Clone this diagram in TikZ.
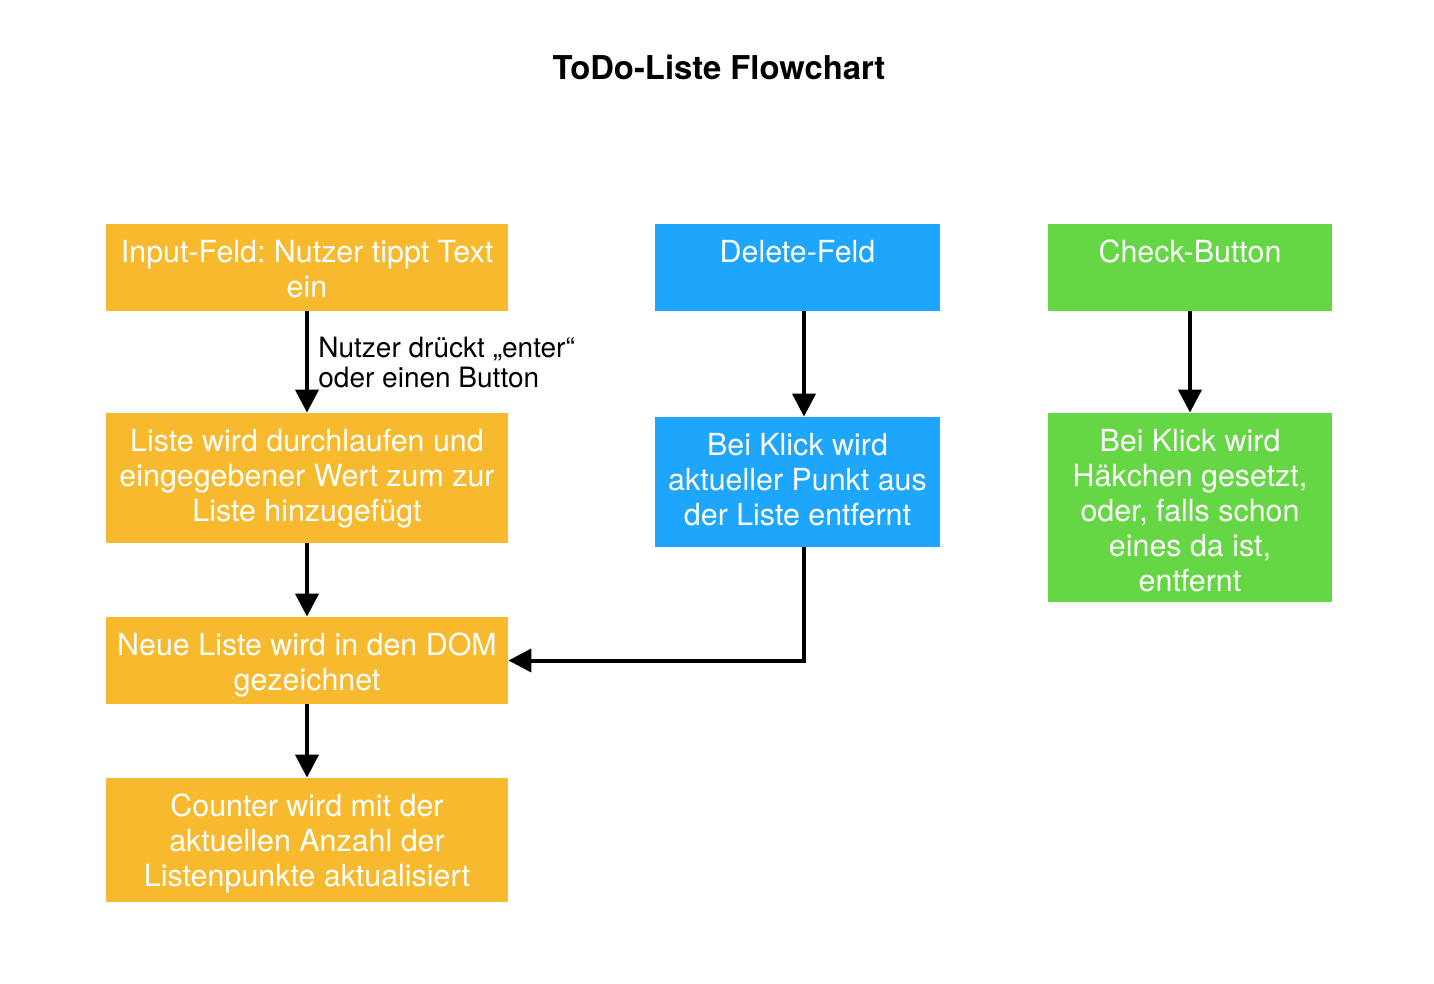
\documentclass[tikz,border=0pt]{standalone}
\usepackage{fontspec}
\setmainfont{TeX Gyre Heros}
\usetikzlibrary{arrows.meta}
\definecolor{borange}{HTML}{F7B92E}
\definecolor{bblue}{HTML}{1DA6FC}
\definecolor{bgreen}{HTML}{66D744}
\tikzset{
  box/.style={rectangle, inner sep=0pt, draw=none},
  boxtext/.style={anchor=north, inner sep=0pt, align=center, text=white,
    font=\fontsize{15.2pt}{17.5pt}\selectfont\frenchspacing, yshift=-8pt},
  arr/.style={line width=2pt, -{Triangle[length=11.5pt,width=11.5pt]}},
}
\begin{document}
\begin{tikzpicture}[x=0.5pt,y=-0.5pt]
\useasboundingbox (0,0) rectangle (1434,984);
\node (title) at (719,67) {\fontsize{16.4pt}{19pt}\selectfont\bfseries ToDo-Liste Flowchart};
% left column
\node[box, fill=borange, minimum width=201pt, minimum height=43.5pt] (in) at (307,267.5) {};
\node[boxtext] (intxt) at (in.north) {Input-Feld: Nutzer tippt Text\\ein};
\node[box, fill=borange, minimum width=201pt, minimum height=65pt] (li) at (307,478) {};
\node[boxtext] (litxt) at (li.north) {Liste wird durchlaufen und\\eingegebener Wert zum zur\\Liste hinzugefügt};
\node[box, fill=borange, minimum width=201pt, minimum height=43.5pt] (ne) at (307,660.5) {};
\node[boxtext] (netxt) at (ne.north) {Neue Liste wird in den DOM\\gezeichnet};
\node[box, fill=borange, minimum width=201pt, minimum height=62pt] (co) at (307,840) {};
\node[boxtext] (cotxt) at (co.north) {Counter wird mit der\\aktuellen Anzahl der\\Listenpunkte aktualisiert};
% middle column
\node[box, fill=bblue, minimum width=142.5pt, minimum height=43.5pt] (de) at (797.5,267.5) {};
\node[boxtext] (detxt) at (de.north) {Delete-Feld};
\node[box, fill=bblue, minimum width=142.5pt, minimum height=65pt] (bk) at (797.5,482) {};
\node[boxtext] (bktxt) at (bk.north) {Bei Klick wird\\aktueller Punkt aus\\der Liste entfernt};
% right column
\node[box, fill=bgreen, minimum width=142pt, minimum height=43.5pt] (ch) at (1190,267.5) {};
\node[boxtext] (chtxt) at (ch.north) {Check-Button};
\node[box, fill=bgreen, minimum width=142pt, minimum height=94.5pt] (gk) at (1190,507.5) {};
\node[boxtext] (gktxt) at (gk.north) {Bei Klick wird\\Häkchen gesetzt,\\oder, falls schon\\eines da ist,\\entfernt};
% connectors
\draw[arr] (in.south) -- (li.north);
\node[anchor=north west, inner sep=0pt, align=left, font=\fontsize{14pt}{15pt}\selectfont] (lbl) at (318,337) {Nutzer drückt „enter“\\oder einen Button};
\draw[arr] (li.south) -- (ne.north);
\draw[arr] (ne.south) -- (co.north);
\draw[arr] ([xshift=3.25pt]de.south) -- ([xshift=3.25pt]bk.north);
\draw[arr] ([xshift=3.25pt]bk.south) |- (ne.east);
\draw[arr] (ch.south) -- (gk.north);
\end{tikzpicture}
\end{document}
